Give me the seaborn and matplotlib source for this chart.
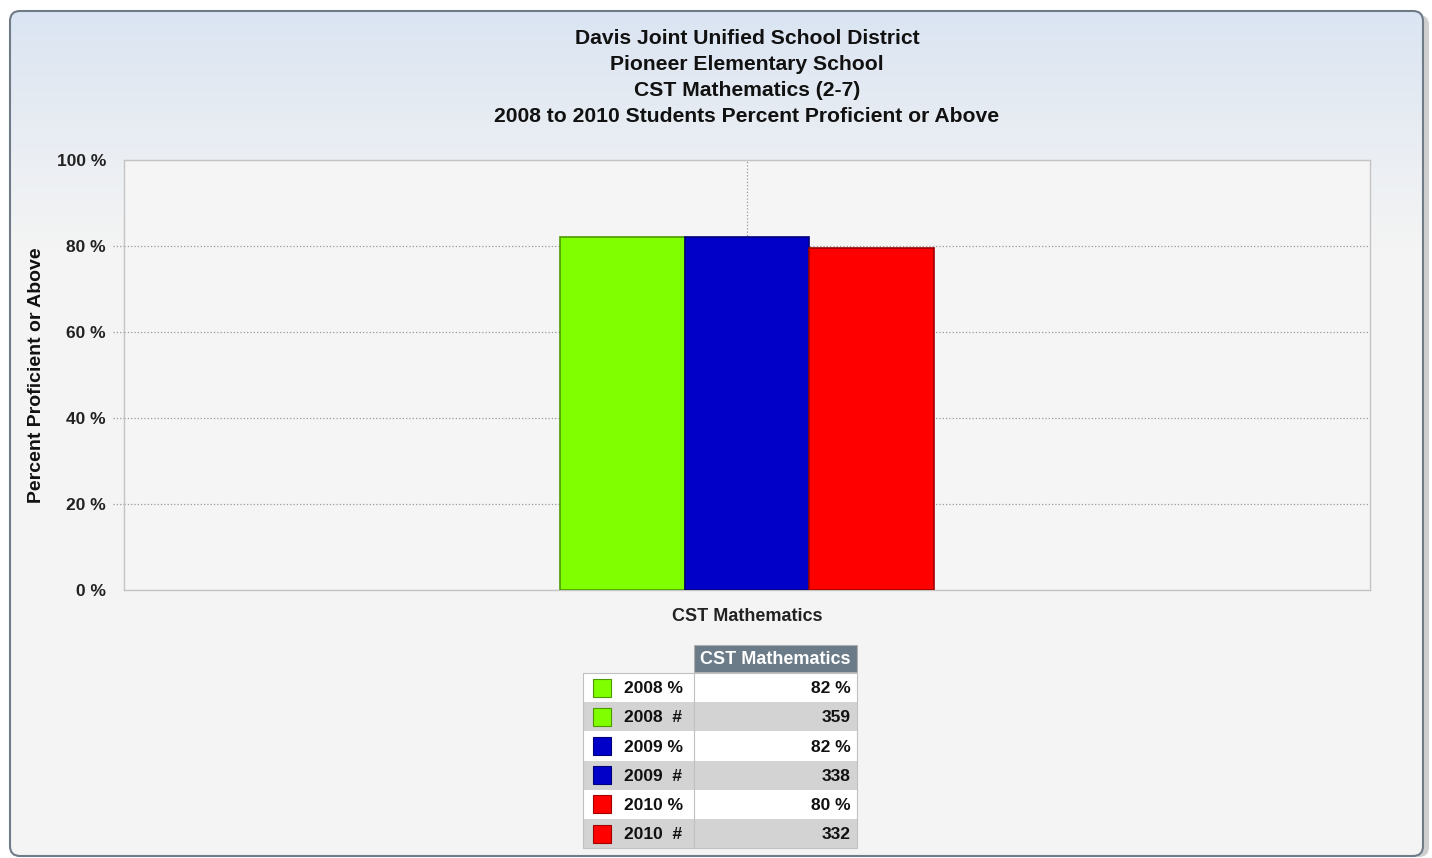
import numpy as np
import pandas as pd
import matplotlib
matplotlib.use("Agg")
import matplotlib.pyplot as plt
from matplotlib.patches import FancyBboxPatch, Rectangle
import seaborn as sns

# ---- data ----
category = ["CST Mathematics"]
years = ["2008", "2009", "2010"]
pct_values = [82.0, 82.0, 79.6]
counts = [359, 338, 332]
bar_colors = ["#7fff00", "#0000c8", "#ff0000"]
edge_colors = ["#4c9a00", "#00007a", "#a00000"]
title_lines = [
    "Davis Joint Unified School District",
    "Pioneer Elementary School",
    "CST Mathematics (2-7)",
    "2008 to 2010 Students Percent Proficient or Above",
]
y_ticks = [0, 20, 40, 60, 80, 100]
y_tick_labels = ["0 %", "20 %", "40 %", "60 %", "80 %", "100 %"]
y_label = "Percent Proficient or Above"
table_header = "CST Mathematics"

sns.set_theme(style="white")
FONT = ["Liberation Sans", "DejaVu Sans"]
plt.rcParams["font.family"] = FONT

W, H = 1432, 858
fig = plt.figure(figsize=(W / 100, H / 100), dpi=100)
fig.patch.set_facecolor("white")

# background / overlay axes in pixel coords
bg = fig.add_axes([0, 0, 1, 1], zorder=-1)
bg.set_xlim(0, W)
bg.set_ylim(H, 0)
bg.axis("off")

# shadow on the right / bottom
shadow = FancyBboxPatch((14, 15), 1415, 842, boxstyle="round,pad=0,rounding_size=10",
                        facecolor="#cfcfcf", edgecolor="none", zorder=0)
bg.add_patch(shadow)

# gradient panel
grad = np.linspace(0, 1, 512).reshape(-1, 1)
top = np.array([0.855, 0.894, 0.949])
bot = np.array([0.957, 0.957, 0.957])
t = np.clip(grad / 0.28, 0, 1) ** 0.9
img = top * (1 - t) + bot * t
img = np.repeat(img[:, None, :], 2, axis=1)
px0, py0, pw, ph = 10, 11, 1413, 845
panel = FancyBboxPatch((px0, py0), pw, ph, boxstyle="round,pad=0,rounding_size=10",
                       facecolor="none", edgecolor="#6f7c88", linewidth=1.5, zorder=3)
im = bg.imshow(img, extent=(px0, px0 + pw, py0 + ph, py0), aspect="auto", zorder=1)
bg.add_patch(panel)
im.set_clip_path(panel)
bg.set_xlim(0, W)
bg.set_ylim(H, 0)

# title
for i, line in enumerate(title_lines):
    ypix = [38, 64, 91, 117][i]
    fig.text(747 / W, 1 - ypix / H, line, ha="center", va="center",
             fontsize=15.2, fontweight="bold", color="#111111")

# main axes
ax = fig.add_axes([124 / W, 1 - 590 / H, (1370 - 124) / W, (590 - 160) / H])
ax.set_facecolor("#f5f5f5")

df = pd.DataFrame({
    "category": category * len(years),
    "year": years,
    "value": pct_values,
})
sns.barplot(data=df, x="category", y="value", hue="year", palette=bar_colors,
            width=0.3, saturation=1, ax=ax, legend=False, linewidth=1.2)
for p, ec in zip(ax.patches, edge_colors):
    p.set_edgecolor(ec)
    p.set_zorder(3)

ax.set_xlim(-0.5, 0.5)
ax.set_ylim(0, 100)
ax.set_yticks(y_ticks)
ax.set_yticklabels(y_tick_labels, fontsize=12.5, fontweight="bold", color="#222222")
ax.set_xticks([0])
ax.set_xticklabels(category, fontsize=13, fontweight="bold", color="#222222")
ax.tick_params(axis="y", length=0, pad=13)
ax.tick_params(axis="x", length=0, pad=13)
ax.set_xlabel("")
ax.set_ylabel(y_label, fontsize=14, fontweight="bold", color="#111111")
ax.yaxis.set_label_coords(-0.0634, 0.5)
ax.grid(True, axis="both", linestyle=":", color="#9a9a9a", linewidth=0.9)
ax.set_axisbelow(True)
for s in ax.spines.values():
    s.set_color("#c4c4c4")
    s.set_linewidth(1.0)

# short dotted tick stubs left of axis
for yv in y_ticks[1:-1]:
    ax.plot([-0.009, 0], [yv, yv], transform=ax.get_yaxis_transform(),
            linestyle=":", color="#9a9a9a", linewidth=0.9, clip_on=False)

# ---- data table ----
x0, x1, x2 = 583, 694, 857
hdr_top, hdr_bot = 645, 672
row_h = 29.2
bg.add_patch(Rectangle((x1, hdr_top), x2 - x1, hdr_bot - hdr_top,
                       facecolor="#6b7b88", edgecolor="#b0b0b0", lw=0.8, zorder=4))
bg.text((x1 + x2) / 2, (hdr_top + hdr_bot) / 2 + 1, table_header, ha="center",
        va="center", color="white", fontsize=13, fontweight="bold", zorder=5)
r = 0
for yr, pv, cnt, col, ec in zip(years, pct_values, counts, bar_colors, edge_colors):
    for kind in ("%", "#"):
        ytop = hdr_bot + 1 + r * row_h
        face = "white" if kind == "%" else "#d3d3d3"
        bg.add_patch(Rectangle((x0, ytop), x2 - x0, row_h, facecolor=face,
                               edgecolor="none", zorder=4))
        bg.plot([x1, x1], [ytop, ytop + row_h], color="#c0c0c0", lw=0.8, zorder=5)
        bg.add_patch(Rectangle((593, ytop + row_h / 2 - 9), 18, 18, facecolor=col,
                               edgecolor=ec, lw=0.8, zorder=5))
        lab = f"{yr} %" if kind == "%" else f"{yr}  #"
        bg.text(624, ytop + row_h / 2 + 1, lab, ha="left", va="center",
                fontsize=12.5, fontweight="bold", color="#111111", zorder=6)
        val = f"{round(pv)} %" if kind == "%" else f"{cnt}"
        bg.text(851, ytop + row_h / 2 + 1, val, ha="right", va="center",
                fontsize=12.5, fontweight="bold", color="#111111", zorder=6)
        r += 1
tbl_bot = hdr_bot + 1 + r * row_h
bg.add_patch(Rectangle((x0, hdr_bot + 1), x2 - x0, tbl_bot - hdr_bot - 1,
                       facecolor="none", edgecolor="#c0c0c0", lw=0.8, zorder=6))

fig.savefig("out.png", dpi=100)
